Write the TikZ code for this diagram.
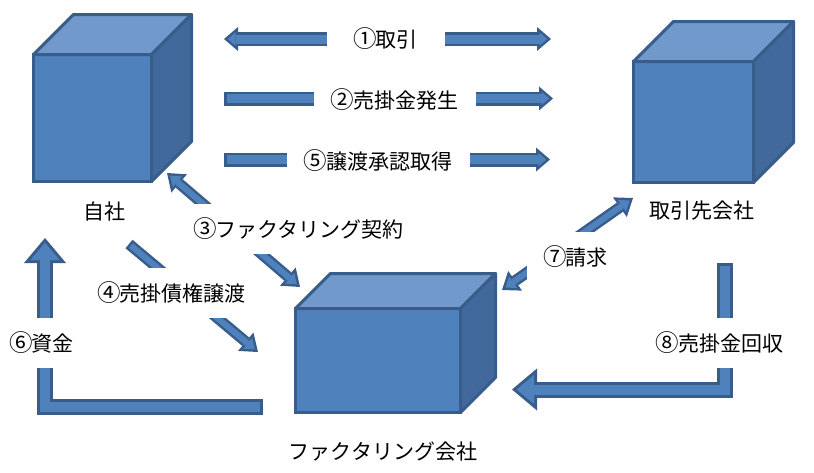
\documentclass[tikz,border=0pt]{standalone}
\usepackage{fontspec}
\usepackage{graphicx}
\setmainfont{Noto Sans CJK JP}
\usetikzlibrary{arrows.meta,calc}
\definecolor{cubeblue}{HTML}{4F81BD}
\definecolor{cubetopblue}{HTML}{7299CB}
\definecolor{cubesideblue}{HTML}{41699B}
\definecolor{edgeblue}{HTML}{385D8A}
\newcommand{\maru}[1]{\makebox[1em]{\scalebox{1.12}{#1}}}
\tikzstyle{cubefront}=[rectangle,draw=edgeblue,fill=cubeblue,line width=3pt,outer sep=0pt,inner sep=0pt]
\tikzstyle{cubetop}=[draw=edgeblue,fill=cubetopblue,line width=3pt,line join=round]
\tikzstyle{cubeside}=[draw=edgeblue,fill=cubesideblue,line width=3pt,line join=round]
\tikzstyle{firmlabel}=[font=\fontsize{21}{24}\selectfont,inner sep=0pt]
\tikzstyle{steplabel}=[font=\fontsize{21}{24}\selectfont,fill=white,inner xsep=18pt,inner ysep=0pt,minimum height=50pt]
\tikzstyle{barout}=[draw=edgeblue,line width=14pt]
\tikzstyle{barin}=[draw=cubeblue,line width=9pt]
\tikzstyle{diagout}=[draw=edgeblue,line width=11pt]
\tikzstyle{diagin}=[draw=cubeblue,line width=6pt]
\tikzstyle{elbowout}=[draw=edgeblue,line width=16pt,line join=miter]
\tikzstyle{elbowin}=[draw=cubeblue,line width=10pt,line join=miter]
\tikzset{barhead/.tip={Triangle[length=14pt,width=24pt,line width=0pt]},
  barheadin/.tip={Triangle[length=7.7pt,width=13.2pt,line width=0pt]},
  diaghead/.tip={Triangle[length=16pt,width=24pt,line width=0pt]},
  diagheadin/.tip={Triangle[length=9.3pt,width=14pt,line width=0pt]},
  elbowhead/.tip={Triangle[length=25pt,width=42pt,line width=0pt]},
  elbowheadin/.tip={Triangle[length=17.3pt,width=29pt,line width=0pt]}}

\begin{document}
\begin{tikzpicture}[x=1pt,y=-1pt]
\useasboundingbox (0,0) rectangle (814,472);

% the three companies
\foreach \pos/\name/\w/\h/\d in {{(92.5,118)/jisha/118/127/40}, {(693.5,122)/torihiki/120/121/40}, {(378,360.5)/factor/165/104/35}}
{
  \node[cubefront, minimum width=\w pt, minimum height=\h pt] (\name) at \pos {};
  \filldraw[cubetop] (\name.north west) -- ++(\d,-\d) -- ($(\name.north east)+(\d,-\d)$) -- (\name.north east) -- cycle;
  \filldraw[cubeside] (\name.north east) -- ++(\d,-\d) -- ($(\name.south east)+(\d,-\d)$) -- (\name.south east) -- cycle;
}

\foreach \pos/\name/\label in {{(104,212)/jishaname/自社}, {(702,211)/torihikiname/取引先会社}, {(383,452)/factorname/ファクタリング会社}}
  \node[firmlabel] (\name) at \pos {\label};

% arrow ends
\foreach \pos/\name in {{(224,39)/p1a}, {(551,39)/p1b}, {(224,98.5)/p2a}, {(553,98.5)/p2b}, {(224,159.5)/p5a}, {(550,159.5)/p5b},
  {(167,173)/p3a}, {(300,287)/p3b}, {(129,244)/p4a}, {(258,352)/p4b}, {(633,198)/p7a}, {(502,290)/p7b},
  {(263,406.5)/p6a}, {(45,238)/p6b}, {(725,263)/p8a}, {(512,389.5)/p8b}}
  \path \pos coordinate (\name);

% straight arrows
\draw[barout, {barhead}-{barhead}] (p1a) -- (p1b);
\draw[barin, {barheadin}-{barheadin}, shorten <=3.8pt, shorten >=3.8pt] (p1a) -- (p1b);
\foreach \source/\dest in {p2a/p2b, p5a/p5b}
{
  \draw[barout, -{barhead}] (\source) -- (\dest);
  \draw[barin, -{barheadin}, shorten <=2.5pt, shorten >=3.8pt] (\source) -- (\dest);
}
\foreach \source/\dest in {p3a/p3b, p7a/p7b}
{
  \draw[diagout, {diaghead}-{diaghead}] (\source) -- (\dest);
  \draw[diagin, {diagheadin}-{diagheadin}, shorten <=4.2pt, shorten >=4.2pt] (\source) -- (\dest);
}
\draw[diagout, -{diaghead}] (p4a) -- (p4b);
\draw[diagin, -{diagheadin}, shorten <=2.5pt, shorten >=4.2pt] (p4a) -- (p4b);

% elbow arrows
\draw[elbowout, -{elbowhead}] (p6a) -| (p6b);
\draw[elbowin, -{elbowheadin}, shorten <=3pt, shorten >=4.7pt] (p6a) -| (p6b);
\draw[elbowout, -{elbowhead}] (p8a) |- (p8b);
\draw[elbowin, -{elbowheadin}, shorten <=3pt, shorten >=4.7pt] (p8a) |- (p8b);

% step labels
\node[steplabel, minimum width=118pt] (s1) at (386,39) {\maru{①}取引};
\foreach \pos/\name/\num/\label in {{(395,100)/s2/②/売掛金発生}, {(378.5,161)/s5/⑤/譲渡承認取得}, {(299,229)/s3/③/ファクタリング契約},
  {(172,293)/s4/④/売掛債権譲渡}, {(42,343)/s6/⑥/資金}, {(576,257)/s7/⑦/請求}, {(720,343)/s8/⑧/売掛金回収}}
  \node[steplabel] (\name) at \pos {\maru{\num}\label};
\end{tikzpicture}
\end{document}
